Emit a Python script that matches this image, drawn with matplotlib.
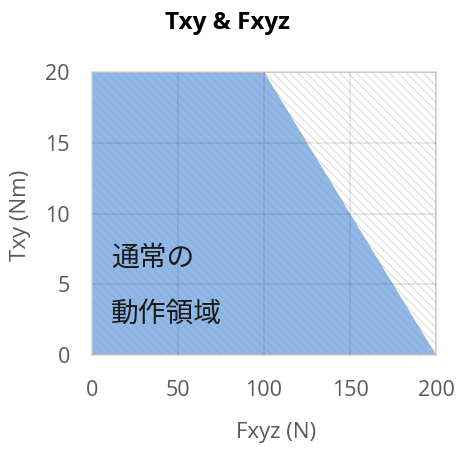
import matplotlib.pyplot as plt
from matplotlib.patches import Polygon, Rectangle

# operating region boundary (Fxyz in N, Txy in Nm)
fxyz = [0, 0, 100, 200]
txy = [0, 20, 20, 0]

x_ticks = [0, 50, 100, 150, 200]
y_ticks = [0, 5, 10, 15, 20]
region_label = ["通常の", "動作領域"]
label_y = [6.85, 2.95]

plt.rcParams["hatch.linewidth"] = 0.9

fig = plt.figure(figsize=(4.58, 4.5), dpi=100)
ax = fig.add_axes([0.201, 0.211, 0.751, 0.629])

# hatched background for the whole plot area
bg = Rectangle((0, 0), 200, 20, facecolor="white", edgecolor="#e0e0e0",
               hatch="\\\\\\\\", lw=0, zorder=0)
ax.add_patch(bg)

# normal operating area
region = Polygon(list(zip(fxyz, txy)), closed=True, facecolor="#91b8e5",
                 edgecolor="#87afe0", hatch="\\\\\\\\", lw=0, zorder=1)
ax.add_patch(region)

ax.set_xlim(0, 200)
ax.set_ylim(0, 20)
ax.set_xticks(x_ticks)
ax.set_yticks(y_ticks)
ax.grid(True, color="k", alpha=0.1, lw=1.2, zorder=2)
ax.set_axisbelow(False)
ax.tick_params(length=0, labelsize=15.5, labelcolor="#595959")
ax.tick_params(axis="x", pad=18)
ax.tick_params(axis="y", pad=16)
for lab in ax.get_xticklabels() + ax.get_yticklabels():
    lab.set_family("Open Sans")
for s in ax.spines.values():
    s.set_color("#d9d9d9")
    s.set_linewidth(1.2)

for txt, yy in zip(region_label, label_y):
    ax.text(11, yy, txt, fontsize=20, family="Noto Sans CJK JP",
            va="center", ha="left", color="#1a1a1a", zorder=3)

fig.text(0.496, 0.949, "Txy & Fxyz", fontsize=17.5, fontweight="bold",
         family="Open Sans", ha="center", va="center")
fig.text(0.603, 0.038, "Fxyz (N)", fontsize=16, color="#595959",
         family="Open Sans", ha="center", va="center")
fig.text(0.044, 0.522, "Txy (Nm)", fontsize=16, color="#595959",
         family="Open Sans", ha="center", va="center", rotation=90)

fig.savefig("out.png", dpi=100)
